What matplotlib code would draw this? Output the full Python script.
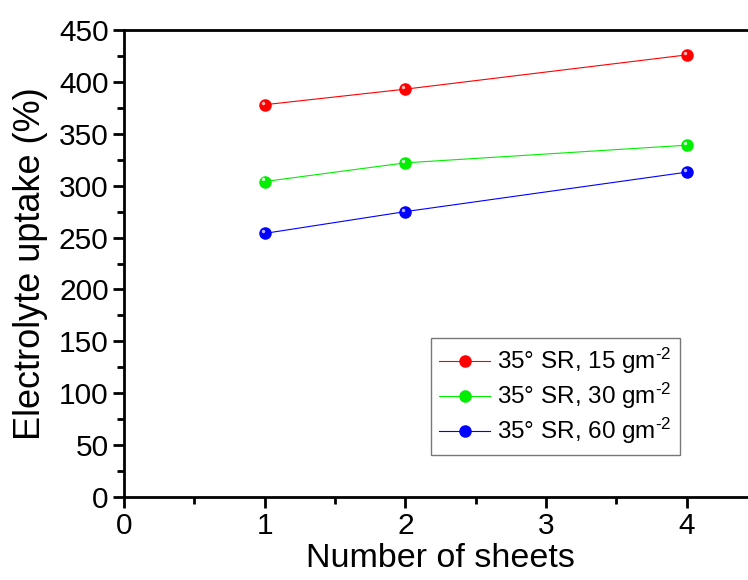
import numpy as np
import matplotlib.pyplot as plt
import matplotlib.transforms as mtransforms
from matplotlib.ticker import MultipleLocator

plt.rcParams['font.family'] = ['Liberation Sans', 'DejaVu Sans']
plt.rcParams['mathtext.fontset'] = 'custom'
plt.rcParams['mathtext.rm'] = 'Liberation Sans'
plt.rcParams['mathtext.it'] = 'Liberation Sans'

# Data
sheets = [1, 2, 4]
uptake_15 = [378, 393, 426]
uptake_30 = [304, 322, 339]
uptake_60 = [254, 275, 313]
labels = ['35° SR, 15 gm$^{\u2010\\mathrm{2}}$', '35° SR, 30 gm$^{\u2010\\mathrm{2}}$',
          '35° SR, 60 gm$^{\u2010\\mathrm{2}}$']
colors = ['#ff0000', '#00ee00', '#0000ff']
shine = ['#ffb4b4', '#c8ffc8', '#b4b4ff']

fig = plt.figure(figsize=(7.48, 5.80), dpi=100)
ax = fig.add_axes([124 / 748, 83 / 580, 633 / 748, 467 / 580])

# small highlight on each ball, shifted up-left
offset = ax.transData + mtransforms.ScaledTranslation(-1.5 / 72, 1.5 / 72, fig.dpi_scale_trans)

for y, lab, c, sh in zip([uptake_15, uptake_30, uptake_60], labels, colors, shine):
    ax.plot(sheets, y, '-', color=c, lw=0.8, marker='o', markersize=8,
            markerfacecolor=c, markeredgecolor=c, label=lab)
    ax.plot(sheets, y, 'o', color=sh, markersize=2.5, markeredgewidth=0,
            transform=offset)

ax.set_xlim(0, 4.5)
ax.set_ylim(0, 450)
ax.xaxis.set_major_locator(MultipleLocator(1))
ax.xaxis.set_minor_locator(MultipleLocator(0.5))
ax.yaxis.set_major_locator(MultipleLocator(50))
ax.yaxis.set_minor_locator(MultipleLocator(25))
ax.tick_params(which='major', direction='out', length=8, width=2, labelsize=21.5, pad=3)
ax.tick_params(which='minor', direction='out', length=5, width=2)
ax.tick_params(top=False, right=False)
for s in ['left', 'bottom', 'top']:
    ax.spines[s].set_linewidth(2)
ax.spines['right'].set_visible(False)

ax.set_xlabel('Number of sheets', fontsize=24.5, labelpad=2)
ax.set_ylabel('Electrolyte uptake (%)', fontsize=26, labelpad=8)

leg = ax.legend(loc='lower right', bbox_to_anchor=(0.879, 0.09), fontsize=17.5,
                frameon=True, fancybox=False, edgecolor='#555555',
                handlelength=2.1, handletextpad=0.3, borderpad=0.35,
                labelspacing=0.2, borderaxespad=0)
leg.get_frame().set_linewidth(1)

fig.savefig('out.png', dpi=100)
